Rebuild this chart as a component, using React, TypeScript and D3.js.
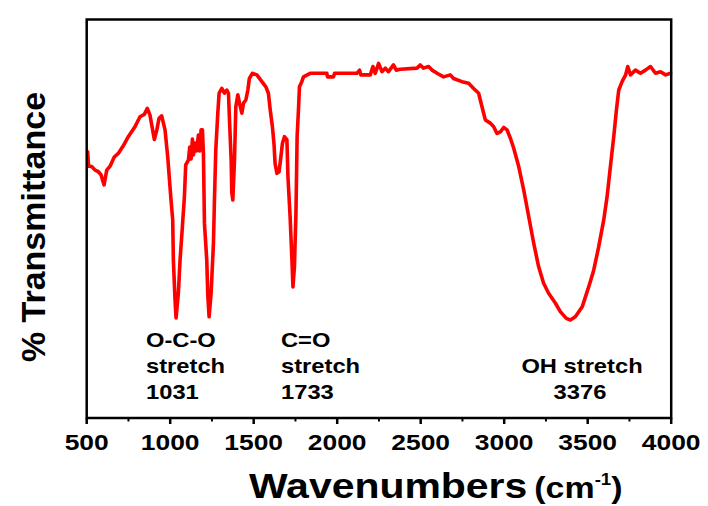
import React from "react";
import * as d3 from "d3";

// FTIR spectrum (wavenumber in cm-1, % transmittance)
const wavenumbers = [
  506, 511, 530, 550, 570, 586, 604, 620, 640, 665, 689, 719, 749, 789, 819, 845, 863, 879, 905, 920,
  933, 949, 969, 985, 1005, 1015, 1019, 1029, 1035, 1049, 1059, 1073, 1085, 1093, 1109, 1117, 1125, 1133, 1139, 1149,
  1157, 1169, 1177, 1185, 1193, 1199, 1205, 1219, 1225, 1233, 1245, 1259, 1265, 1273, 1285, 1293, 1309, 1325, 1339, 1349,
  1355, 1365, 1369, 1375, 1385, 1393, 1405, 1415, 1429, 1439, 1453, 1465, 1474, 1492, 1519, 1549, 1573, 1588, 1599, 1612,
  1622, 1628, 1639, 1652, 1663, 1672, 1684, 1699, 1705, 1718, 1729, 1735, 1744, 1753, 1760, 1768, 1774, 1788, 1798, 1838,
  1938, 1942, 1978, 1984, 2118, 2134, 2142, 2198, 2214, 2228, 2248, 2268, 2288, 2307, 2337, 2354, 2378, 2478, 2497, 2517,
  2547, 2568, 2598, 2637, 2677, 2697, 2747, 2787, 2817, 2847, 2867, 2887, 2917, 2937, 2957, 2977, 2997, 3017, 3037, 3057,
  3087, 3117, 3147, 3177, 3206, 3236, 3266, 3307, 3336, 3372, 3396, 3426, 3467, 3506, 3536, 3566, 3596, 3616, 3636, 3656,
  3672, 3686, 3706, 3727, 3740, 3756, 3786, 3816, 3846, 3876, 3906, 3936, 3966, 3996,
];
const transmittance = [
  66.8, 63.2, 63.1, 62.2, 61.8, 61.0, 58.5, 62.2, 63.2, 65.5, 66.4, 68.3, 70.6, 73.1, 75.6, 76.2, 77.7, 76.0, 69.9, 72.3,
  75.2, 75.8, 72.3, 65.6, 54.7, 49.7, 39.6, 29.6, 25.1, 31.4, 39.6, 48.0, 55.5, 63.5, 64.7, 68.0, 65.0, 70.0, 66.0, 69.0,
  67.0, 71.0, 67.0, 72.3, 72.3, 66.4, 48.9, 39.6, 30.9, 25.4, 31.4, 43.9, 54.7, 67.3, 76.5, 81.5, 82.7, 81.5, 82.3, 81.5,
  74.8, 64.7, 56.5, 54.7, 64.7, 78.1, 81.1, 79.0, 76.5, 79.0, 79.8, 82.3, 85.2, 86.5, 86.1, 84.4, 83.1, 81.5, 77.3, 73.1,
  68.5, 63.9, 61.4, 61.8, 65.6, 68.9, 70.6, 69.8, 60.6, 50.5, 39.6, 32.9, 38.0, 51.4, 70.6, 77.3, 83.1, 84.4, 85.6, 86.5,
  86.5, 85.6, 85.6, 86.5, 86.5, 87.3, 86.1, 86.1, 88.2, 86.5, 89.0, 86.9, 87.8, 86.9, 88.6, 87.3, 87.5, 87.8, 88.6, 87.8,
  88.2, 87.3, 86.5, 85.6, 86.1, 85.2, 84.4, 84.0, 82.7, 81.5, 78.1, 74.8, 74.0, 73.1, 71.4, 71.8, 72.9, 72.3, 70.2, 67.7,
  63.1, 57.2, 50.5, 43.8, 38.0, 33.8, 31.3, 28.8, 26.7, 25.0, 24.6, 25.4, 27.9, 32.9, 37.1, 43.0, 49.7, 55.5, 63.1, 70.6,
  77.3, 82.3, 84.4, 86.1, 88.2, 86.1, 87.3, 86.5, 87.3, 88.2, 86.5, 86.9, 86.1, 86.5,
];

const xMajorTicks = [500, 1000, 1500, 2000, 2500, 3000, 3500, 4000];
const xMinorTicks = [750, 1250, 1750, 2250, 2750, 3250, 3750];

const xTitle = "Wavenumbers";
const xUnit = "(cm";
const xUnitSup = "-1";
const yTitle = "% Transmittance";

const annOCO = ["O-C-O", "stretch", "1031"];
const annCO = ["C=O", "stretch", "1733"];
const annOH = ["OH stretch", "3376"];

const W = 708;
const H = 506;
const left = 86.7;
const right = 671.2;
const top = 19.5;
const bottom = 418;
const FONT = "Arial, 'Liberation Sans', Helvetica, sans-serif";

export default function App() {
  const x = d3.scaleLinear().domain([500, 4000]).range([left, right]);
  const y = d3.scaleLinear().domain([0, 100]).range([bottom, top]);
  const pts: [number, number][] = wavenumbers.map((w, i) => [w, transmittance[i]]);
  const line = d3
    .line<[number, number]>()
    .x((d) => x(d[0]))
    .y((d) => y(d[1]))
    .curve(d3.curveLinear);

  const stretch = 1.2;

  return (
    <svg
      width={W}
      height={H}
      style={{ position: "absolute", left: 0, top: 0, background: "#ffffff" }}
      fontFamily={FONT}
    >
      <rect x={0} y={0} width={W} height={H} fill="#ffffff" />
      <path
        d={line(pts) || ""}
        fill="none"
        stroke="#ff0000"
        strokeWidth={3.6}
        strokeLinejoin="round"
        strokeLinecap="round"
      />
      {/* frame */}
      <rect x={left} y={top} width={right - left} height={bottom - top} fill="none" stroke="#000" strokeWidth={2.5} />
      {/* ticks */}
      {xMajorTicks.map((t) => (
        <line key={"M" + t} x1={x(t)} x2={x(t)} y1={bottom} y2={bottom + 6} stroke="#000" strokeWidth={2.5} />
      ))}
      {xMinorTicks.map((t) => (
        <line key={"m" + t} x1={x(t)} x2={x(t)} y1={bottom} y2={bottom + 3.5} stroke="#000" strokeWidth={2} />
      ))}
      {xMajorTicks.map((t) => (
        <text
          key={"L" + t}
          transform={`translate(${x(t)},${bottom + 32}) scale(${stretch},1)`}
          textAnchor="middle"
          fontSize={22}
          fontWeight="bold"
          fill="#000"
        >
          {t}
        </text>
      ))}
      {/* x title */}
      <text transform={`translate(249,498) scale(1.17,1)`} fontSize={35} fontWeight="bold" fill="#000">
        {xTitle}
        <tspan fontSize={29} dx={6}>{xUnit}</tspan>
        <tspan fontSize={16} dy={-13}>{xUnitSup}</tspan>
        <tspan fontSize={29} dy={13}>)</tspan>
      </text>
      {/* y title */}
      <text
        transform={`translate(45,227) rotate(-90)`}
        textAnchor="middle"
        fontSize={34}
        fontWeight="bold"
        fill="#000"
      >
        {yTitle}
      </text>
      {/* annotations */}
      {annOCO.map((s, i) => (
        <text key={"a" + i} transform={`translate(146,${346.5 + i * 26}) scale(1.13,1)`} fontSize={21} fontWeight="bold" fill="#000">
          {s}
        </text>
      ))}
      {annCO.map((s, i) => (
        <text key={"b" + i} transform={`translate(281,${346.5 + i * 26}) scale(1.13,1)`} fontSize={21} fontWeight="bold" fill="#000">
          {s}
        </text>
      ))}
      {annOH.map((s, i) => (
        <text
          key={"c" + i}
          transform={`translate(${i === 0 ? 582 : 580},${372.5 + i * 26}) scale(1.13,1)`}
          textAnchor="middle"
          fontSize={21}
          fontWeight="bold"
          fill="#000"
        >
          {s}
        </text>
      ))}
    </svg>
  );
}
